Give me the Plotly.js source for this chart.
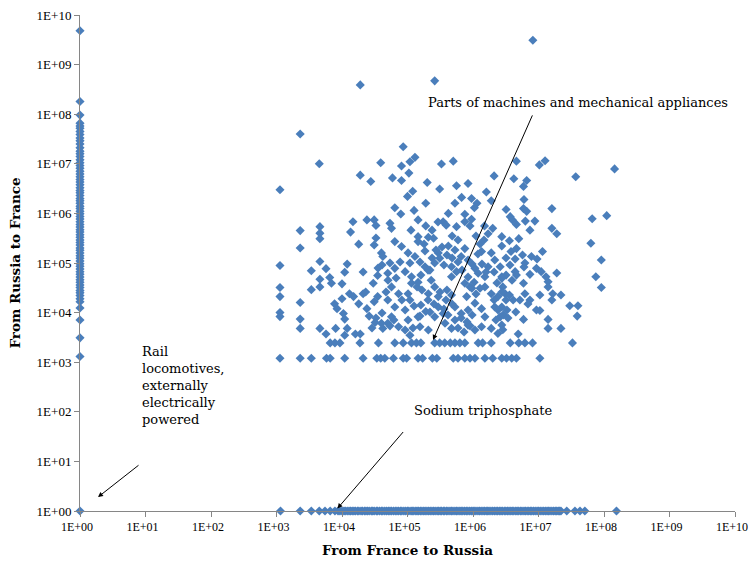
<!DOCTYPE html>
<html>
<head>
<meta charset="utf-8">
<script src="https://cdn.plot.ly/plotly-3.0.1.min.js"></script>
<style>
html,body{margin:0;padding:0;background:#fff;}
#chart{width:749px;height:562px;}
</style>
</head>
<body>
<div id="chart"></div>
<script>
// ---- data ----
const tickValues = [1, 1e1, 1e2, 1e3, 1e4, 1e5, 1e6, 1e7, 1e8, 1e9, 1e10];
const tickLabels = ['1E+00','1E+01','1E+02','1E+03','1E+04','1E+05','1E+06','1E+07','1E+08','1E+09','1E+10'];

// products exported only from Russia to France (France->Russia = 1)
const columnY = [4.8e9, 1.8e8, 9.6e7, 6.6e7, 5.8e7, 5.2e7, 4.5e7, 3.9e7, 3.3e7, 2.9e7, 2.5e7, 2.1e7, 1.8e7,
  1.6e7, 1.4e7, 1.2e7, 1.05e7, 9.2e6, 8.1e6, 7.1e6, 6.2e6, 5.5e6, 4.8e6, 4.3e6, 3.8e6, 3.3e6, 2.9e6,
  2.6e6, 2.3e6, 2.0e6, 1.8e6, 1.6e6, 1.4e6, 1.25e6, 1.1e6, 9.8e5, 8.7e5, 7.7e5, 6.8e5, 6.0e5, 5.3e5,
  4.7e5, 4.2e5, 3.7e5, 3.3e5, 2.9e5, 2.6e5, 2.3e5, 2.0e5, 1.8e5, 1.6e5, 1.4e5, 1.25e5, 1.1e5, 9.7e4,
  8.6e4, 7.6e4, 6.7e4, 5.9e4, 5.2e4, 4.6e4, 4.1e4, 3.6e4, 3.2e4, 2.8e4, 2.5e4, 2.2e4, 1.9e4, 1.66e4,
  1.24e4, 7.1e3, 3.1e3, 1.3e3, 1];

// products exported only from France to Russia (Russia->France = 1)
const rowX = [1.15e3, 2.3e3, 3.4e3, 4.5e3, 5.5e3, 6.6e3, 7.8e3,
  8.7e3, 9.3e3, 1.0e4, 1.07e4, 1.12e4, 1.2e4, 1.28e4, 1.35e4, 1.43e4, 1.52e4, 1.6e4, 1.72e4, 1.81e4,
  1.95e4, 2.05e4, 2.2e4, 2.32e4, 2.45e4, 2.6e4, 2.8e4, 2.95e4, 3.1e4, 3.35e4, 3.5e4, 3.75e4, 4.0e4,
  4.2e4, 4.5e4, 4.8e4, 5.1e4, 5.4e4, 5.7e4, 6.1e4, 6.5e4, 6.9e4, 7.3e4, 7.8e4, 8.2e4, 8.8e4, 9.4e4,
  1.0e5, 1.05e5, 1.13e5, 1.18e5, 1.25e5, 1.34e5, 1.4e5, 1.48e5, 1.57e5, 1.66e5, 1.77e5, 1.86e5, 1.98e5,
  2.1e5, 2.22e5, 2.36e5, 2.5e5, 2.64e5, 2.83e5, 2.97e5, 3.15e5, 3.3e5, 3.52e5, 3.7e5, 3.95e5, 4.15e5,
  4.45e5, 4.7e5, 4.95e5, 5.3e5, 5.6e5, 5.9e5, 6.3e5, 6.6e5, 7.0e5, 7.45e5, 7.9e5, 8.35e5, 8.9e5, 9.4e5,
  1.0e6, 1.04e6, 1.11e6, 1.19e6, 1.26e6, 1.33e6, 1.42e6, 1.5e6, 1.59e6, 1.68e6, 1.76e6, 1.88e6, 2.0e6,
  2.12e6, 2.25e6, 2.37e6, 2.52e6, 2.67e6, 2.8e6, 3.0e6, 3.17e6, 3.35e6, 3.55e6, 3.78e6, 3.97e6, 4.2e6,
  4.5e6, 4.72e6, 5.0e6, 5.35e6, 5.6e6, 6.0e6, 6.3e6, 6.7e6, 7.1e6, 7.5e6, 7.9e6, 8.4e6, 8.9e6, 9.5e6,
  1.0e7, 1.06e7, 1.13e7, 1.2e7, 1.27e7, 1.35e7, 1.42e7, 1.5e7, 1.6e7, 1.7e7, 1.8e7, 1.9e7, 2.0e7,
  2.1e7, 2.2e7, 2.7e7, 3.6e7, 4.3e7, 5.1e7, 1.55e8];

// two-way traded products
const cloudX = [8.2e6, 2.6e5, 1.9e4, 2.3e3, 1.45e8, 1.13e3, 4.5e3, 3.9e4, 1.9e4, 2.75e4,
  8.6e4, 1.09e5, 1.3e5, 8.1e4, 5.9e4, 8.1e4, 1.05e5, 3.3e5, 5.0e5, 2.0e5,
  3.1e5, 5.6e5, 8.4e5, 2.1e6, 1.2e5, 1.0e5, 1.9e5, 6.4e4, 7.9e4, 1.26e5,
  5.3e5, 6.7e5, 9.5e5, 1.15e6, 1.05e6, 7.5e5, 9.5e5, 1.6e6, 1.9e6, 4.2e5,
  3.5e5, 3.9e5, 5.4e4, 5.7e4, 1.45e5, 1.13e5, 1.9e5, 5.6e5, 7.5e5, 9.0e5,
  1.5e6, 2.0e6, 1.7e6, 1.45e5, 1.45e5, 2.08e5, 2.5e5, 6.4e4, 8.1e4, 4.2e5,
  5.3e5, 1.35e6, 1.02e5, 1.3e5, 2.95e5, 3.1e5, 2.6e5, 7.5e5, 6.6e5, 8.4e5,
  1.9e6, 2.15e6, 1.7e6, 5.4e4, 6.4e4, 5.0e4, 1.09e5, 9.2e4, 1.15e5, 1.85e5,
  2.2e5, 1.6e5, 4.7e5, 5.6e5, 4.7e5, 1.07e6, 1.2e6, 1.52e6, 2.6e6, 2.75e6,
  5.7e4, 7.3e4, 5.0e4, 1.15e5, 1.4e5, 1.02e5, 2.3e5, 2.6e5, 2.08e5, 2.95e5,
  4.0e5, 4.7e5, 7.5e5, 9.6e5, 8.0e5, 1.52e6, 1.9e6, 2.4e6, 6.4e4, 9.2e4,
  5.7e4, 1.6e5, 1.9e5, 1.45e5, 2.95e5, 3.5e5, 2.6e5, 5.3e5, 6.6e5, 8.4e5,
  1.07e6, 1.35e6, 1.52e6, 2.15e6, 2.6e6, 5.0e4, 7.3e4, 9.2e4, 1.55e5, 2.08e5,
  3.74e5, 4.7e5, 8.4e5, 1.07e6, 1.35e6, 1.9e6, 2.4e6, 1.09e5,
  1.47e4, 2.4e4, 3.1e4, 3.3e4, 2.3e3, 4.6e3, 4.6e3, 4.6e3, 1.35e4, 2.3e3,
  1.8e4, 3.3e4, 3.1e4, 1.13e3, 4.6e3, 3.4e3, 5.7e3, 1.2e4, 1.1e4, 2.1e4,
  4.0e4, 4.2e4, 4.6e3, 6.5e3, 6.9e3, 3.4e3, 4.6e3, 1.0e4, 1.13e3, 1.13e3,
  2.3e3, 1.13e3, 1.13e3, 2.3e3, 2.3e3, 4.6e3, 5.7e3, 8.0e3, 1.1e4, 1.2e4,
  1.6e4, 1.9e4, 7.7e3, 8.4e3, 1.0e4, 1.3e4, 1.5e4, 2.1e4, 2.3e4, 1.05e4,
  1.1e4, 1.8e4, 2.4e4, 2.6e4, 3.1e4, 3.5e4, 3.2e4, 4.0e4, 4.2e4, 3.0e4, 3.5e4,
  4.6e6, 1.03e7, 1.26e7, 3.7e7, 4.2e6, 6.6e6, 5.9e6, 6.0e6, 3.2e6, 5.9e6,
  6.6e6, 1.6e7, 3.7e6, 4.0e6, 4.6e6, 6.3e6, 8.8e6, 7.4e6, 1.6e7, 1.9e7,
  6.6e7, 1.1e8, 6.3e7, 9.1e7, 7.5e7, 9.1e7, 2.75e6, 3.6e6, 5.0e6, 2.75e6,
  3.8e6, 4.6e6, 1.15e7, 4.4e6, 5.7e6, 7.8e6, 9.5e6, 6.2e6, 6.0e6, 9.3e6,
  1.1e7, 4.4e6, 4.6e6, 1.9e7, 7.4e6, 3.2e6, 2.75e6, 1.3e7, 1.4e7, 1.4e7,
  5.9e6, 2.85e6, 3.1e6, 3.6e6, 4.1e6, 6.2e6, 7.4e6, 1.05e7, 1.65e7, 1.6e7,
  2.2e7, 3.0e7, 4.0e7, 3.9e7, 2.75e6, 3.3e6, 2.9e6, 9.3e6, 1.05e7, 5.9e6,
  1.4e7, 2.75e6, 2.85e6, 1.4e7, 2.2e7, 4.9e6,
  6.6e3, 7.8e3, 9.3e3, 1.88e4, 3.6e4, 6.4e4, 8.6e4, 1.15e5, 1.37e5, 1.6e5,
  2.6e5, 3.1e5, 3.7e5, 4.5e5, 5.3e5, 6.3e5, 7.5e5, 1.2e6, 1.4e6, 1.9e6,
  3.7e6, 5.0e6, 6.2e6, 8.1e6, 3.3e7,
  1.13e3, 2.3e3, 3.4e3, 5.8e3, 6.6e3, 1.1e4, 2.1e4, 3.4e4, 3.9e4, 4.5e4,
  6.1e4, 8.6e4, 9.7e4, 1.45e5, 1.7e5, 2.4e5, 2.8e5, 5.0e5, 5.9e5, 7.5e5,
  9.0e5, 1.07e6, 1.52e6, 2.0e6, 2.75e6, 3.25e6, 3.9e6, 4.6e6, 1.05e7];

const cloudY = [3.1e9, 4.7e8, 3.9e8, 4.0e7, 7.9e6, 3.0e6, 1.0e7, 1.05e7, 5.9e6, 4.4e6,
  2.2e7, 1.1e7, 1.35e7, 9.0e6, 5.2e6, 4.6e6, 6.5e6, 9.9e6, 1.13e7, 4.2e6,
  3.1e6, 3.6e6, 4.0e6, 5.7e6, 2.8e6, 2.2e6, 1.6e6, 1.3e6, 9.7e5, 1.15e6,
  1.6e6, 2.1e6, 2.0e6, 1.6e6, 1.3e6, 9.6e5, 7.6e5, 2.7e6, 1.8e6, 1.0e6,
  6.8e5, 5.8e5, 6.3e5, 5.0e5, 7.4e5, 4.6e5, 5.6e5, 5.4e5, 6.8e5, 5.6e5,
  5.6e5, 5.0e5, 3.9e5, 3.4e5, 2.7e5, 3.3e5, 3.15e5, 2.7e5, 2.15e5, 2.2e5,
  1.83e5, 1.7e5, 1.6e5, 1.35e5, 1.6e5, 1.25e5, 1.0e5, 1.95e5, 1.35e5, 1.15e5,
  1.6e5, 1.15e5, 8.4e4, 1.0e5, 7.8e4, 6.2e4, 1.0e5, 6.7e4, 5.3e4, 8.4e4,
  7.2e4, 5.7e4, 8.4e4, 6.7e4, 5.3e4, 7.8e4, 6.2e4, 5.3e4, 8.4e4, 5.3e4,
  3.3e4, 2.4e4, 1.8e4, 3.9e4, 3.3e4, 2.4e4, 4.5e4, 3.3e4, 2.4e4, 2.1e4,
  2.86e4, 2.26e4, 3.9e4, 3.1e4, 2.1e4, 3.3e4, 2.4e4, 2.1e4, 1.3e4, 1.13e4,
  8.2e3, 1.42e4, 1.05e4, 8.2e3, 1.3e4, 9.6e3, 8.2e3, 1.3e4, 9.6e3, 1.13e4,
  1.55e4, 1.2e4, 8.2e3, 1.3e4, 8.2e3, 6.1e3, 5.2e3, 4.46e3, 5.2e3, 4.46e3,
  6.1e3, 4.8e3, 5.6e3, 4.46e3, 5.2e3, 4.8e3, 3.8e3, 3.5e3,
  6.8e5, 7.4e5, 7.4e5, 5.7e5, 4.5e5, 5.4e5, 4.0e5, 3.1e5, 4.2e5, 2.0e5,
  2.4e5, 3.2e5, 2.3e5, 8.9e4, 1.07e5, 7.0e4, 7.7e4, 9.5e4, 6.5e4, 6.6e4,
  1.6e5, 1.35e5, 4.7e4, 5.1e4, 3.9e4, 2.9e4, 3.3e4, 3.8e4, 3.2e4, 2.1e4,
  1.6e4, 1.0e4, 8.3e3, 7.4e3, 4.8e3, 4.8e3, 3.7e3, 4.8e3, 3.5e3, 4.8e3,
  3.7e3, 3.7e3, 1.5e4, 1.2e4, 1.9e4, 2.4e4, 2.1e4, 2.4e4, 2.6e4, 9.6e3,
  7.4e3, 1.5e4, 1.2e4, 8.5e3, 1.65e4, 2.1e4, 6.3e3, 6.1e3, 4.8e3, 3.9e4, 5.6e4,
  1.13e7, 9.5e6, 1.15e7, 5.5e6, 5.0e6, 4.6e6, 3.5e6, 1.9e6, 1.2e6, 1.25e6,
  1.1e6, 1.25e6, 8.6e5, 7.4e5, 6.0e5, 7.0e5, 7.0e5, 4.6e5, 5.0e5, 3.9e5,
  7.8e5, 9.0e5, 2.5e5, 1.15e5, 5.3e4, 3.2e4, 3.4e5, 2.8e5, 3.1e5, 2.2e5,
  1.7e5, 1.95e5, 1.7e5, 1.2e5, 1.45e5, 1.35e5, 1.2e5, 1.0e5, 8.3e4, 7.8e4,
  6.7e4, 6.7e4, 5.7e4, 6.3e4, 5.9e4, 5.7e4, 4.9e4, 5.3e4, 4.2e4, 3.3e4,
  3.9e4, 3.3e4, 2.4e4, 2.26e4, 1.8e4, 2.4e4, 1.8e4, 2.26e4, 2.4e4, 1.8e4,
  2.26e4, 1.37e4, 1.37e4, 8.5e3, 1.3e4, 1.13e4, 9.0e3, 1.13e4, 1.1e4, 7.3e3,
  7.3e3, 5.6e3, 4.5e3, 4.8e3, 4.8e3, 3.7e3,
  2.45e3, 2.45e3, 2.45e3, 2.45e3, 2.45e3, 2.45e3, 2.45e3, 2.45e3, 2.45e3, 2.45e3,
  2.45e3, 2.45e3, 2.45e3, 2.45e3, 2.45e3, 2.45e3, 2.45e3, 2.45e3, 2.45e3, 2.45e3,
  2.45e3, 2.45e3, 2.45e3, 2.45e3, 2.45e3,
  1.2e3, 1.2e3, 1.2e3, 1.2e3, 1.2e3, 1.2e3, 1.2e3, 1.2e3, 1.2e3, 1.2e3,
  1.2e3, 1.2e3, 1.2e3, 1.2e3, 1.2e3, 1.2e3, 1.2e3, 1.2e3, 1.2e3, 1.2e3,
  1.2e3, 1.2e3, 1.2e3, 1.2e3, 1.2e3, 1.2e3, 1.2e3, 1.2e3, 1.2e3];

// more two-way products in the dense core of the cloud
const coreX = [2.72e5, 3.36e5, 4.0e5, 4.8e5, 5.9e5, 3.6e5, 2.37e5, 1.85e5, 1.66e5, 2.06e5,
  2.54e5, 3.13e5, 3.87e5, 3.6e5, 4.8e5, 2.2e5, 4.15e5, 5.3e5, 6.6e5, 8.1e5,
  9.7e5, 5.9e5, 7.3e5, 9.0e5, 6.8e5, 8.4e5, 1.04e6, 1.28e6, 1.58e6, 1.11e6,
  9.0e5, 1.37e6, 2.1e6, 2.32e6, 2.77e6, 3.19e6, 2.1e6, 2.41e6, 3.42e6, 2.24e6,
  4.08e4, 5.04e4, 6.7e4, 7.7e4, 3.55e4, 4.7e4, 3.3e4, 4.08e4, 5.4e4, 2.87e4,
  6.2e4, 1.09e5, 1.26e5, 8.2e4, 1.55e5, 1.02e5, 1.21e5, 1.55e5, 2.06e5, 1.45e5,
  1.79e5, 2.37e5, 2.92e5, 4.8e5, 5.9e5, 1.11e6, 1.28e6, 1.47e6, 1.19e6, 9.7e5,
  3.19e6, 3.67e6, 3.94e6, 5.2e6, 4.5e6, 6.9e6];
const coreY = [1.83e5, 2.1e5, 1.45e5, 1.26e5, 1.05e5, 9.1e4, 1.26e5, 1.75e5, 2.86e4, 1.8e4,
  1.49e4, 2.6e4, 1.8e4, 1.18e4, 1.49e4, 1.03e4, 8.95e3, 7.1e3, 7.8e3, 6.5e3,
  8.95e3, 4.9e3, 4.06e3, 5.4e3, 7.2e4, 5.2e4, 4.1e4, 3.1e4, 6.6e4, 2.37e4,
  3.3e4, 9.5e4, 6.6e4, 3.95e4, 2.6e4, 1.8e4, 1.8e4, 1.13e4, 7.8e3, 7.1e3,
  9.1e4, 4.5e4, 5.0e4, 1.05e5, 7.9e4, 2.6e4, 7.8e3, 9.8e3, 5.4e3, 4.9e3,
  7.1e3, 1.8e4, 1.36e4, 1.8e4, 8.5e3, 7.1e3, 4.9e3, 1.05e5, 7.2e4, 4.1e4,
  2.42e5, 4.6e5, 6.7e5, 3.5e5, 2.9e5, 3.5e5, 2.42e5, 2.9e5, 1.52e5, 9.5e4,
  1.26e5, 9.1e4, 4.5e4, 1.8e4, 1.03e4, 1.49e4];

// ---- chart ----
const markerStyle = {symbol: 'diamond', size: 7, color: '#4A7EBB', line: {width: 0}};
const common = {type: 'scatter', mode: 'markers', marker: markerStyle, cliponaxis: false, hoverinfo: 'x+y', showlegend: false};

const traces = [
  Object.assign({x: columnY.map(() => 1), y: columnY}, common),
  Object.assign({x: rowX, y: rowX.map(() => 1)}, common),
  Object.assign({x: cloudX, y: cloudY}, common),
  Object.assign({x: coreX, y: coreY}, common)
];

const serif = 'Liberation Serif, Times New Roman, serif';
const annFont = {family: 'DejaVu Serif, serif', size: 13, color: '#000'};
const titleFont = {family: 'DejaVu Serif, serif', size: 13.5, color: '#000'};

const layout = {
  width: 749, height: 562,
  margin: {l: 80, r: 14, t: 15, b: 51},
  paper_bgcolor: '#fff', plot_bgcolor: '#fff',
  xaxis: {
    type: 'log', range: [0, 10], tickvals: tickValues, ticktext: tickLabels,
    ticks: 'outside', ticklen: 5, tickcolor: '#868686', tickwidth: 1,
    showline: true, linecolor: '#868686', linewidth: 1, showgrid: false, zeroline: false,
    tickfont: {family: serif, size: 12, color: '#000'}, automargin: false,
    ticklabeloverflow: 'allow', ticklabelshift: -3,
    title: {text: '<b>From France to Russia</b>', font: titleFont, standoff: 12}
  },
  yaxis: {
    type: 'log', range: [0, 10], tickvals: tickValues, ticktext: tickLabels,
    ticks: 'outside', ticklen: 5, tickcolor: '#868686', tickwidth: 1,
    showline: true, linecolor: '#868686', linewidth: 1, showgrid: false, zeroline: false,
    tickfont: {family: serif, size: 13, color: '#000'}, automargin: false, ticklabeloverflow: 'allow',
    title: {text: '<b>From Russia to France</b>', font: titleFont, standoff: 12}
  },
  annotations: [
    {xref: 'x', yref: 'y', x: 5.284, y: 8.23, xanchor: 'left', yanchor: 'middle', showarrow: false,
     text: 'Parts of machines and mechanical appliances', font: annFont},
    {xref: 'x', yref: 'y', x: 5.39, y: 3.45, ax: 100, ay: -226, axref: 'pixel', ayref: 'pixel', text: '',
     showarrow: true, arrowhead: 2, arrowsize: 1, arrowwidth: 1, arrowcolor: '#000'},
    {xref: 'x', yref: 'y', x: 5.064, y: 2.02, xanchor: 'left', yanchor: 'middle', showarrow: false,
     text: 'Sodium triphosphate', font: annFont},
    {xref: 'x', yref: 'y', x: 3.93, y: 0.05, ax: 67, ay: -78, text: '',
     showarrow: true, arrowhead: 2, arrowsize: 1, arrowwidth: 1, arrowcolor: '#000'},
    {xref: 'x', yref: 'y', x: 0.917, y: 3.41, xanchor: 'left', yanchor: 'top', align: 'left', showarrow: false,
     text: 'Rail<br>locomotives,<br>externally<br>electrically<br>powered', font: annFont},
    {xref: 'x', yref: 'y', x: 0.275, y: 0.28, ax: 42, ay: -33, text: '',
     showarrow: true, arrowhead: 2, arrowsize: 1, arrowwidth: 1, arrowcolor: '#000'}
  ]
};

Plotly.newPlot('chart', traces, layout, {staticPlot: true, displayModeBar: false});
</script>
</body>
</html>
